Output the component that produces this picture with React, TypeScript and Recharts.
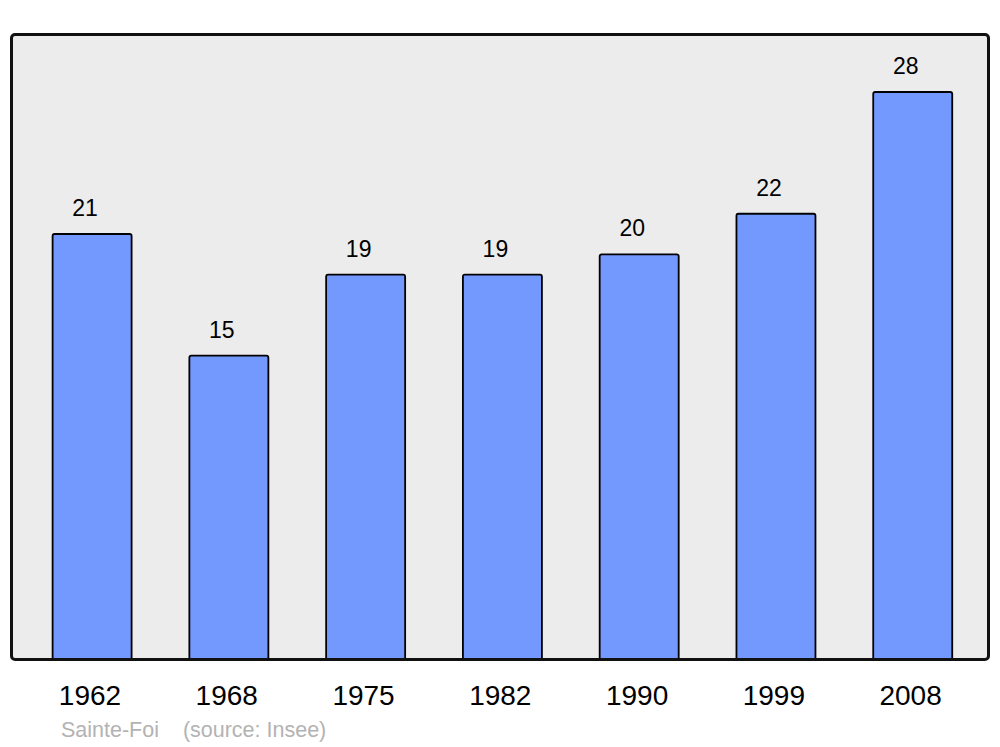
import React from 'react';
import { BarChart, Bar, XAxis, YAxis, LabelList } from 'recharts';

const years = ['1962', '1968', '1975', '1982', '1990', '1999', '2008'];
const population = [21, 15, 19, 19, 20, 22, 28];

const data = years.map((year, i) => ({ year, value: population[i] }));

const font = '"Liberation Sans", Arial, sans-serif';

export default function App() {
  return (
    <div style={{ position: 'absolute', left: 0, top: 0, width: 1000, height: 747, background: '#fff', fontFamily: font }}>
      <div style={{ position: 'absolute', left: 11, top: 34, width: 978, height: 626, background: '#ececec', borderRadius: 4 }} />
      <div style={{ position: 'absolute', left: 0, top: 0 }}>
        <BarChart width={1000} height={747} data={data} margin={{ top: 34, right: 11, bottom: 57, left: 11 }}>
          <XAxis
            dataKey="year"
            axisLine={false}
            tickLine={false}
            height={30}
            padding={{ left: 12.6, right: 8 }}
            tick={{ fontSize: 28, fill: '#000', fontFamily: font }}
            dy={17}
            dx={-2}
          />
          <YAxis hide domain={[0, 30.86]} />
          <Bar dataKey="value" fill="#7399ff" stroke="#000" strokeWidth={1.8} barSize={79} radius={2} isAnimationActive={false}>
            <LabelList dataKey="value" position="top" offset={18} dx={-7} style={{ fontSize: 23, fill: '#000', fontFamily: font }} />
          </Bar>
        </BarChart>
      </div>
      <div style={{ position: 'absolute', left: 10, top: 33, width: 980, height: 628, border: '3px solid #111', borderRadius: 5, boxSizing: 'border-box', pointerEvents: 'none' }} />
      <div style={{ position: 'absolute', left: 61, top: 718, fontSize: 21.5, color: '#b3b3b3', whiteSpace: 'pre' }}>
        {'Sainte-Foi    (source: Insee)'}
      </div>
    </div>
  );
}
